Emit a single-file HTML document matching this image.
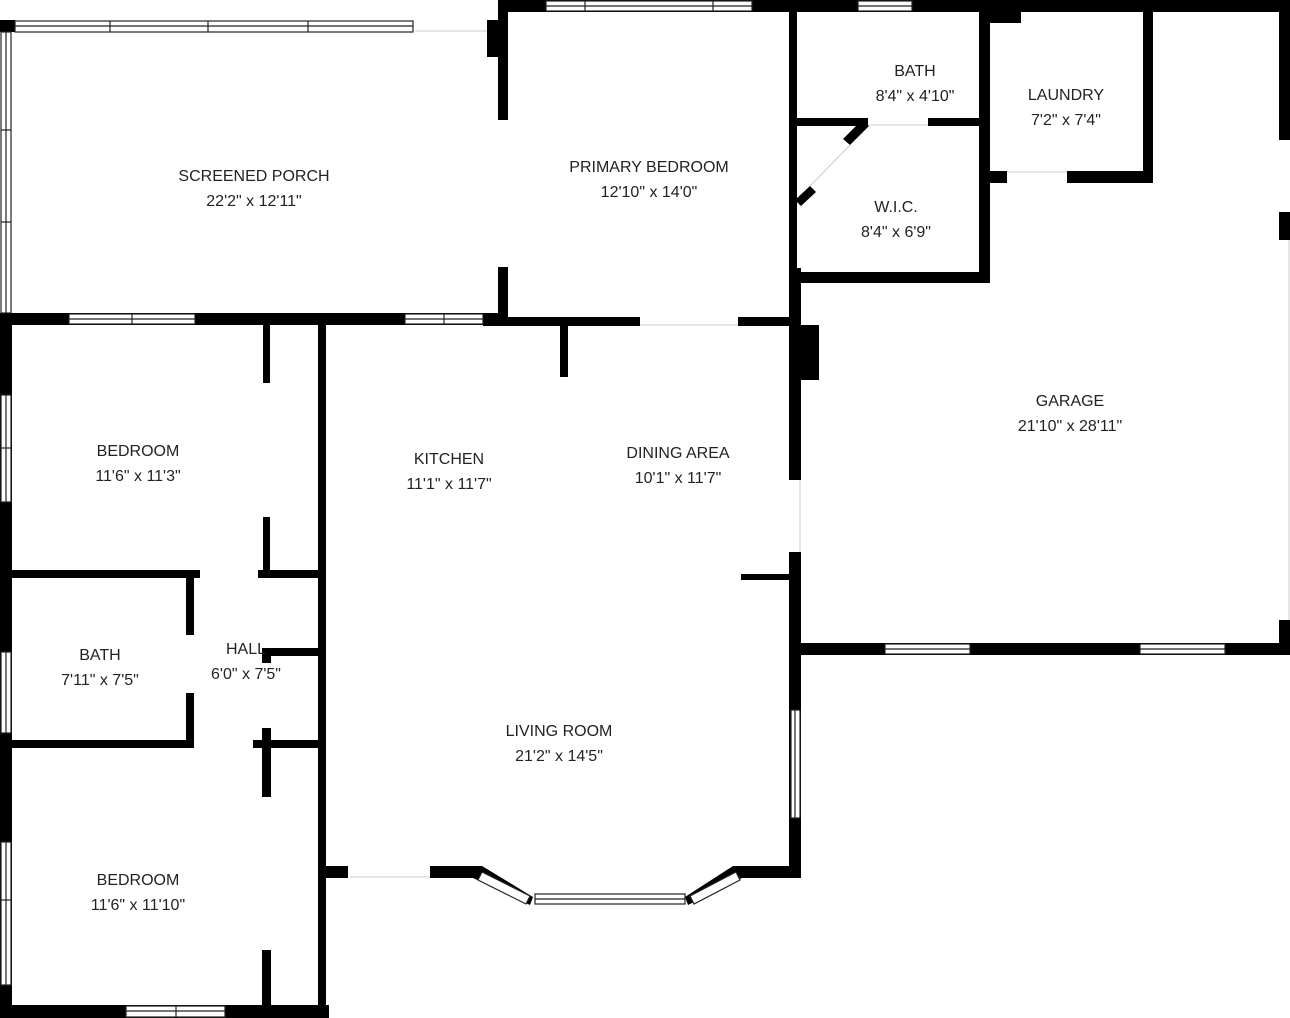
<!DOCTYPE html>
<html><head><meta charset="utf-8"><style>
html,body{margin:0;padding:0;background:#fff;}
svg{display:block;}
text{font-family:"Liberation Sans",sans-serif;font-size:16px;fill:#222;text-anchor:middle;}
.w{fill:#fff;stroke:#222;stroke-width:1.2;}
.g{stroke:#ccc;stroke-width:1;}
</style></head><body>
<svg width="1290" height="1018" viewBox="0 0 1290 1018" xmlns="http://www.w3.org/2000/svg">
<g fill="#000">
<!-- porch -->
<rect x="0" y="20" width="15" height="12"/>
<rect x="487" y="20" width="11" height="37"/>
<rect x="498" y="0" width="10" height="120"/>
<rect x="498" y="267" width="10" height="58"/>
<rect x="0" y="313" width="508" height="12"/>
<!-- top main -->
<rect x="498" y="0" width="792" height="12"/>
<rect x="1279" y="0" width="11" height="140"/>
<rect x="1279" y="212" width="11" height="28"/>
<rect x="1279" y="620" width="11" height="35"/>
<!-- primary bedroom / bath / wic -->
<rect x="789" y="0" width="8" height="268"/>
<rect x="797" y="118" width="71" height="8"/>
<rect x="928" y="118" width="52" height="8"/>
<rect x="979" y="0" width="11" height="283"/>
<rect x="990" y="12" width="31" height="11"/>
<rect x="790" y="272" width="200" height="11"/>
<rect x="987" y="171" width="20" height="12"/>
<rect x="1067" y="171" width="86" height="12"/>
<rect x="1143" y="12" width="10" height="171"/>
<!-- primary bottom -->
<rect x="483" y="317" width="157" height="9"/>
<rect x="738" y="317" width="60" height="9"/>
<rect x="560" y="326" width="8" height="51"/>
<!-- garage left / dining right -->
<rect x="789" y="268" width="12" height="212"/>
<rect x="789" y="552" width="12" height="326"/>
<rect x="801" y="325" width="18" height="55"/>
<rect x="741" y="574" width="50" height="6"/>
<rect x="800" y="643" width="490" height="12"/>
<!-- left exterior -->
<rect x="0" y="313" width="12" height="705"/>
<!-- bedroom 1 -->
<rect x="263" y="325" width="7" height="58"/>
<rect x="263" y="517" width="7" height="61"/>
<rect x="318" y="325" width="8" height="693"/>
<rect x="0" y="570" width="200" height="8"/>
<rect x="258" y="570" width="68" height="8"/>
<!-- bath / hall -->
<rect x="186" y="578" width="8" height="57"/>
<rect x="186" y="693" width="8" height="55"/>
<rect x="0" y="740" width="194" height="8"/>
<rect x="253" y="740" width="73" height="8"/>
<rect x="262" y="648" width="64" height="8"/>
<rect x="262" y="648" width="9" height="15"/>
<rect x="262" y="728" width="9" height="69"/>
<rect x="262" y="950" width="9" height="55"/>
<rect x="0" y="1005" width="329" height="13"/>
<!-- living bottom -->
<rect x="318" y="866" width="30" height="12"/>
<rect x="430" y="866" width="45" height="12"/>
<rect x="740" y="866" width="60" height="12"/>
<polygon points="473,866 482,866 533,897 530,905 473,878"/>
<polygon points="685,897 733,866 742,866 742,878 688,905"/>
<!-- wic diagonal door pieces -->
<polygon points="862,120 869,126 850,145 843,139"/>
<polygon points="795,200 810,186 816,192 801,206"/>
</g>
<!-- windows -->
<g class="w">
<rect x="15" y="21" width="398" height="11"/><line x1="15" y1="26" x2="413" y2="26"/>
<line x1="110" y1="21" x2="110" y2="32"/><line x1="208" y1="21" x2="208" y2="32"/><line x1="308" y1="21" x2="308" y2="32"/>
<rect x="1" y="32" width="10" height="281"/><line x1="6" y1="32" x2="6" y2="313"/>
<line x1="1" y1="130" x2="11" y2="130"/><line x1="1" y1="222" x2="11" y2="222"/>
<rect x="69" y="314" width="126" height="10"/><line x1="69" y1="319" x2="195" y2="319"/><line x1="132" y1="314" x2="132" y2="324"/>
<rect x="405" y="314" width="78" height="10"/><line x1="405" y1="319" x2="483" y2="319"/><line x1="444" y1="314" x2="444" y2="324"/>
<rect x="546" y="1" width="206" height="10"/><line x1="546" y1="6" x2="752" y2="6"/><line x1="585" y1="1" x2="585" y2="11"/><line x1="713" y1="1" x2="713" y2="11"/>
<rect x="858" y="1" width="54" height="10"/><line x1="858" y1="6" x2="912" y2="6"/>
<rect x="1" y="395" width="10" height="107"/><line x1="6" y1="395" x2="6" y2="502"/><line x1="1" y1="448" x2="11" y2="448"/>
<rect x="1" y="652" width="10" height="81"/><line x1="6" y1="652" x2="6" y2="733"/>
<rect x="1" y="842" width="10" height="143"/><line x1="6" y1="842" x2="6" y2="985"/><line x1="1" y1="900" x2="11" y2="900"/>
<rect x="126" y="1006" width="99" height="11"/><line x1="126" y1="1011" x2="225" y2="1011"/><line x1="176" y1="1006" x2="176" y2="1017"/>
<rect x="791" y="710" width="9" height="108"/><line x1="795" y1="710" x2="795" y2="818"/>
<rect x="885" y="644" width="85" height="10"/><line x1="885" y1="649" x2="970" y2="649"/>
<rect x="1140" y="644" width="85" height="10"/><line x1="1140" y1="649" x2="1225" y2="649"/>
<rect x="535" y="894" width="150" height="10"/><line x1="535" y1="899" x2="685" y2="899"/>
<polygon points="482,872 530,896 526,904 478,880"/>
<polygon points="690,896 736,872 740,880 694,904"/>
</g>
<g class="g">
<line x1="415" y1="31" x2="487" y2="31"/>
<line x1="868" y1="125" x2="928" y2="125"/>
<line x1="1007" y1="172" x2="1067" y2="172"/>
<line x1="640" y1="325" x2="738" y2="325"/>
<line x1="350" y1="877" x2="430" y2="877"/>
<line x1="800" y1="480" x2="800" y2="552"/>
<line x1="1289" y1="240" x2="1289" y2="620"/>
<line x1="850" y1="145" x2="810" y2="186"/>
</g>
<text x="254" y="181">SCREENED PORCH</text><text x="254" y="206">22'2" x 12'11"</text>
<text x="649" y="172">PRIMARY BEDROOM</text><text x="649" y="197">12'10" x 14'0"</text>
<text x="915" y="76">BATH</text><text x="915" y="101">8'4" x 4'10"</text>
<text x="1066" y="100">LAUNDRY</text><text x="1066" y="125">7'2" x 7'4"</text>
<text x="896" y="212">W.I.C.</text><text x="896" y="237">8'4" x 6'9"</text>
<text x="1070" y="406">GARAGE</text><text x="1070" y="431">21'10" x 28'11"</text>
<text x="138" y="456">BEDROOM</text><text x="138" y="481">11'6" x 11'3"</text>
<text x="449" y="464">KITCHEN</text><text x="449" y="489">11'1" x 11'7"</text>
<text x="678" y="458">DINING AREA</text><text x="678" y="483">10'1" x 11'7"</text>
<text x="100" y="660">BATH</text><text x="100" y="685">7'11" x 7'5"</text>
<text x="246" y="654">HALL</text><text x="246" y="679">6'0" x 7'5"</text>
<text x="559" y="736">LIVING ROOM</text><text x="559" y="761">21'2" x 14'5"</text>
<text x="138" y="885">BEDROOM</text><text x="138" y="910">11'6" x 11'10"</text>
</svg>
</body></html>
